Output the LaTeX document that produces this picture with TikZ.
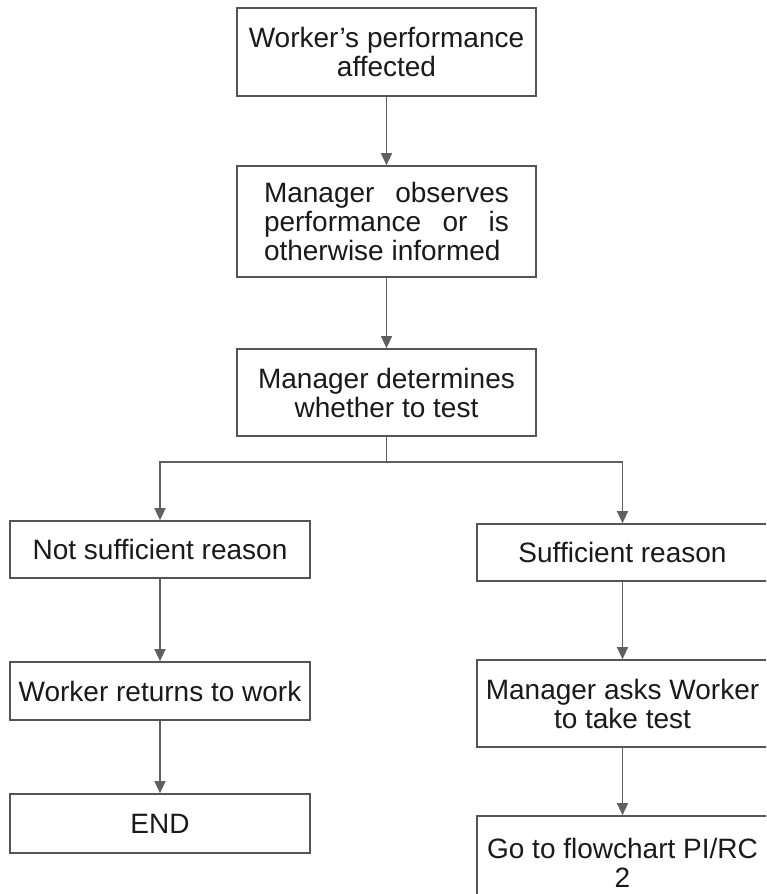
\documentclass[tikz,border=0pt]{standalone}
\usepackage{fontspec}
\setmainfont{Liberation Sans}
\usetikzlibrary{arrows.meta}
\definecolor{boxline}{HTML}{555555}
\definecolor{connc}{HTML}{606060}
\definecolor{txt}{HTML}{1A1A1A}
\tikzset{
  box/.style={draw=boxline, line width=1.7pt, rectangle, inner sep=0pt,
    align=center, text=txt, font=\fontsize{28}{29}\selectfont},
  conn/.style={draw=connc, line width=1.4pt,
    -{Triangle[width=11pt,length=12pt]}},
  plainline/.style={draw=connc, line width=1.4pt}
}
\begin{document}
\begin{tikzpicture}[x=1pt,y=-1pt]
\useasboundingbox (0,0) rectangle (766,894);
\clip (0,0) rectangle (766,894);
\fill[white] (0,0) rectangle (766,894);

\node[box, minimum width=299pt, minimum height=88pt] (b1) at (386.5,52)
  {Worker’s performance\\affected};
\node[box, minimum width=299pt, minimum height=111pt, text width=245pt, align=justify,
  execute at begin node={\hyphenpenalty=10000\tolerance=9999}] (b2) at (386.5,221.5)
  {Manager observes performance or is otherwise informed};
\node[box, minimum width=299pt, minimum height=87pt] (b3) at (386.5,392.5)
  {Manager determines\\whether to test};

\node[box, minimum width=300pt, minimum height=57pt] (b4) at (160,549.5)
  {Not sufficient reason};
\node[box, minimum width=291pt, minimum height=57pt] (b5) at (622.5,552.5)
  {Sufficient reason};

\node[box, minimum width=300pt, minimum height=58pt] (b6) at (160,691)
  {Worker returns to work};
\node[box, minimum width=291pt, minimum height=87pt] (b7) at (622.5,703.5)
  {Manager asks Worker\\to take test};

\node[box, minimum width=300pt, minimum height=59pt] (b8) at (160,823.5)
  {END};
\node[box, minimum width=291pt, minimum height=94pt] (b9) at (622.5,863)
  {Go to flowchart PI/RC\\2};

\coordinate (split) at (386.5,462);

\draw[conn] (b1) -- (b2);
\draw[conn] (b2) -- (b3);
\draw[plainline] (b3.south) -- (split);
\draw[conn] (split) -| (b4.north);
\draw[conn] (split) -| (b5.north);
\draw[conn] (b4) -- (b6);
\draw[conn] (b6) -- (b8);
\draw[conn] (b5) -- (b7);
\draw[conn] (b7) -- (b9);
\end{tikzpicture}
\end{document}
